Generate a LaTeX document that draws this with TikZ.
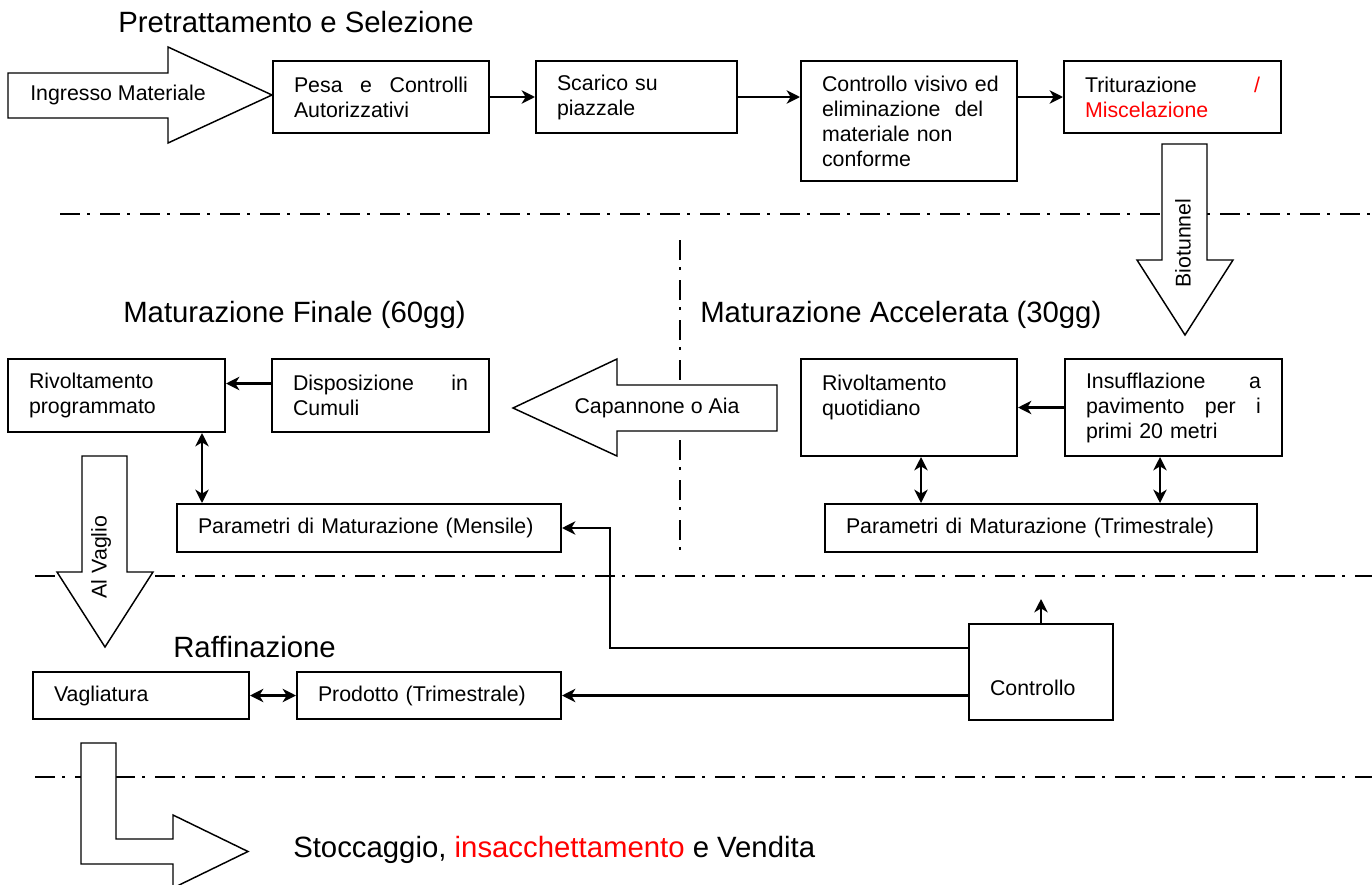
\documentclass[tikz,border=0pt]{standalone}
\usepackage{fontspec}
\setmainfont{Liberation Sans}
\usetikzlibrary{arrows.meta,calc}
% stretchable space used to spread justified lines
\newcommand\spr{\hskip 4pt plus 1filll\relax}
\newcommand\bodyfont{\fontsize{16}{18.75}\selectfont}
\newcommand\titlefont{\fontsize{22}{26}\selectfont}
\hfuzz=2pt
\begin{document}
\begin{tikzpicture}[x=0.75pt,y=-0.75pt,
  bx/.style={draw, line width=1.5pt, inner sep=0pt, align=left, font=\bodyfont, fill=white},
  link/.style={line width=1.8pt, -{Stealth[length=10pt,width=10pt,inset=3pt]}},
  dlink/.style={line width=1.8pt, {Stealth[length=10pt,width=10pt,inset=3pt]}-{Stealth[length=10pt,width=10pt,inset=3pt]}},
  sep/.style={line width=2pt, dash pattern=on 15pt off 5.5pt on 2pt off 7.5pt},
  bigarrow/.style={draw, line width=1.1pt, fill=white, line join=miter},
  title/.style={anchor=base west, inner sep=0pt, font=\titlefont},
  lbl/.style={inner sep=0pt, font=\bodyfont}]
\fill[white] (0,0) rectangle (1372,885);
\useasboundingbox (0,0) rectangle (1372,885);

% section separators
\draw[sep] (60,214) -- (1372,214);
\draw[sep] (35,576) -- (1372,576);
\draw[sep] (35,777) -- (1372,777);
\draw[sep] (680,240) -- (680,552);

% block arrows
\draw[bigarrow] (8,73) -- (168,73) -- (168,47) -- (272,95) -- (168,143) -- (168,118) -- (8,118) -- cycle;
\draw[bigarrow] (1162,144) -- (1207,144) -- (1207,260) -- (1233,260) -- (1185,335) -- (1137,260) -- (1162,260) -- cycle;
\draw[bigarrow] (513,408) -- (617,359) -- (617,385) -- (777,385) -- (777,431) -- (617,431) -- (617,456) -- cycle;
\draw[bigarrow] (82,456) -- (127,456) -- (127,572) -- (153,572) -- (105,647) -- (57,572) -- (82,572) -- cycle;
\draw[bigarrow] (81,743) -- (116,743) -- (116,839) -- (173,839) -- (173,815) -- (248,851.5) -- (173,888) -- (173,864) -- (81,864) -- cycle;

\node[lbl, anchor=west] (ingt) at (30,95) {Ingresso Materiale};
\node[lbl] (biot) at (1183,243) [rotate=90] {Biotunnel};
\node[lbl] (capt) at (657,408) {Capannone o Aia};
\node[lbl] (alvt) at (101,557) [rotate=90] {Al Vaglio};

% section titles
\node[title] (tpre) at (118,32) {Pretrattamento e Selezione};
\node[title] (tfin) at (123,322) {Maturazione Finale (60gg)};
\node[title] (tacc) at (700,322) {Maturazione Accelerata (30gg)};
\node[title] (traf) at (173,657) {Raffinazione};
\node[title] (tsto) at (293,857) {Stoccaggio, \textcolor{red}{insacchettamento} e Vendita};

% process boxes
\node[bx, minimum width=162pt, minimum height=54pt, text width=130.5pt] (pesa) at (381,97)
  {Pesa\spr e\spr Controlli\\Autorizzativi};
\node[bx, minimum width=150.75pt, minimum height=54pt, text width=119.25pt] (scar) at (636.5,97)
  {Scarico su\\piazzale};
\node[bx, minimum width=162pt, minimum height=90pt, text width=130.5pt] (ctrv) at (909,121)
  {\mbox{Controllo visivo ed}\\eliminazione\ \ del\\materiale non\\conforme};
\node[bx, minimum width=162.75pt, minimum height=54pt, text width=131.25pt] (trit) at (1172.5,97)
  {Triturazione\spr\textcolor{red}{/}\\\textcolor{red}{Miscelazione}};

\node[bx, minimum width=162.75pt, minimum height=54.75pt, text width=131.25pt] (rivp) at (116.5,395.5)
  {Rivoltamento\\programmato};
\node[bx, minimum width=162.75pt, minimum height=54.75pt, text width=131.25pt] (disp) at (380.5,395.5)
  {Disposizione\spr in\\Cumuli};
\node[bx, minimum width=288pt, minimum height=36pt, text width=256.5pt] (parm) at (369,528)
  {Parametri di Maturazione (Mensile)};

\node[bx, minimum width=162pt, minimum height=72.75pt, text width=130.5pt] (rivq) at (909,407.5)
  {Rivoltamento\\quotidiano\\\mbox{}};
\node[bx, minimum width=162.75pt, minimum height=72.75pt, text width=131.25pt] (insf) at (1173.5,407.5)
  {Insufflazione\spr a\\pavimento\spr per\spr i\\primi 20 metri};
\node[bx, minimum width=324pt, minimum height=36pt, text width=292.5pt] (part) at (1041,528)
  {Parametri di Maturazione (Trimestrale)};

\node[bx, minimum width=162pt, minimum height=35.25pt, text width=130.5pt] (vagl) at (141,695.5)
  {Vagliatura};
\node[bx, minimum width=198pt, minimum height=35.25pt, text width=166.5pt] (prod) at (429,695.5)
  {Prodotto (Trimestrale)};
\node[bx, minimum width=108pt, minimum height=72pt, text width=76.5pt] (ctrl) at (1041,672)
  {\rule{0pt}{35pt}Controllo};

% connectors
\draw[link] (pesa) -- (scar);
\draw[link] (scar.east) -- (scar.east -| ctrv.west);
\draw[link] (trit.west -| ctrv.east) -- (trit.west);

\coordinate (d1) at ($(disp.west)+(0,-12)$);
\draw[link] (d1) -- (d1 -| rivp.east);
\coordinate (m1) at ($(rivp.south east)+(-24,0)$);
\draw[dlink] (m1) -- (m1 |- parm.north);

\draw[link] (insf) -- (rivq);
\coordinate (q1) at ($(rivq.south west)+(121,0)$);
\draw[dlink] (q1) -- (q1 |- part.north);
\coordinate (q2) at ($(insf.south west)+(96,0)$);
\draw[dlink] (q2) -- (q2 |- part.north);

\draw[dlink] (vagl) -- (prod);
\draw[link] (prod.east -| ctrl.west) -- (prod.east);
\coordinate (c1) at ($(ctrl.west)+(0,-24)$);
\coordinate (c2) at ($(parm.east)+(48,0)$);
\draw[link] (c1) -| (c2) -- (parm.east);
\coordinate (up) at ($(ctrl.north)+(0,-24)$);
\draw[link] (ctrl.north) -- (up);
\end{tikzpicture}
\end{document}
